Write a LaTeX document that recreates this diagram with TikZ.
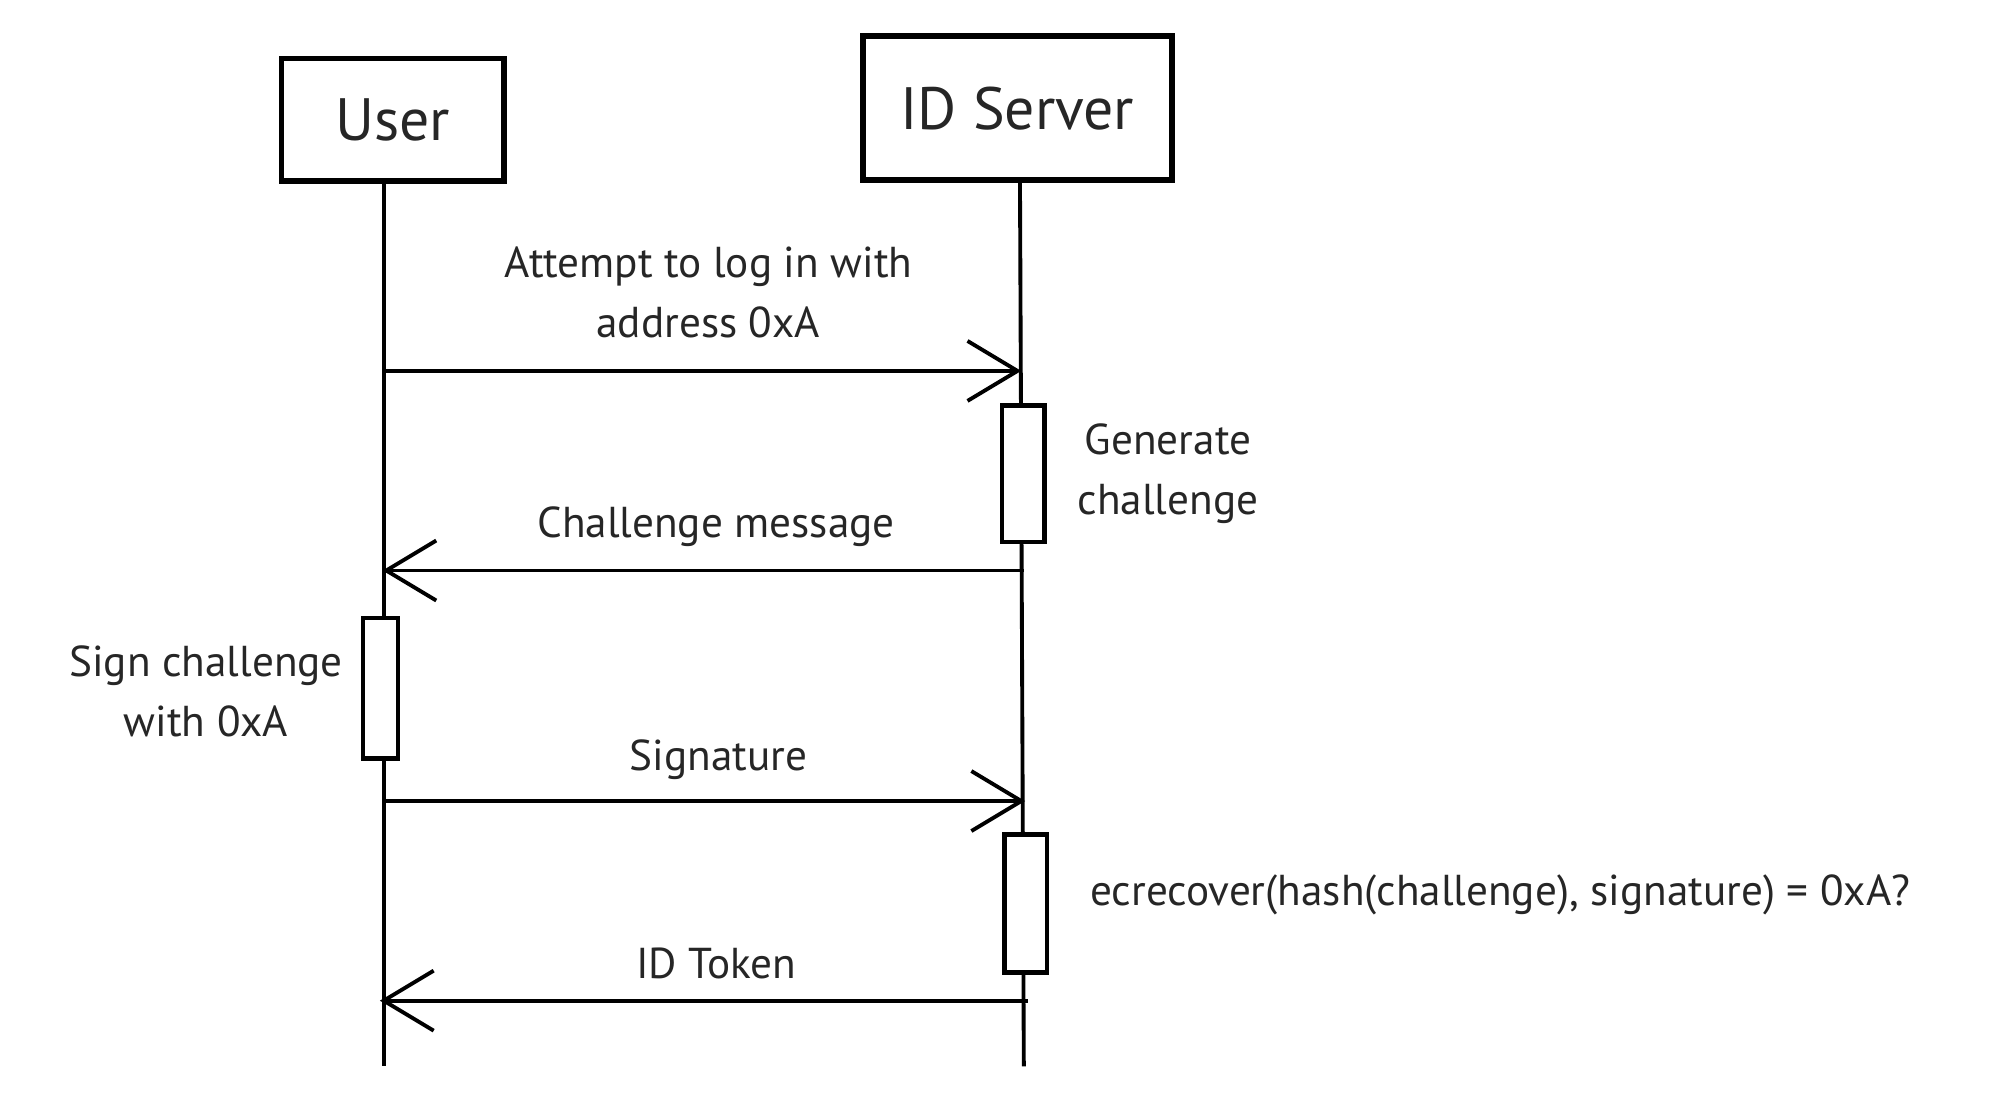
\documentclass[tikz,border=0pt]{standalone}
\usepackage{fontspec}
\setmainfont{PT Sans}
\usetikzlibrary{arrows.meta}
\begin{document}
\begin{tikzpicture}[x=0.01288cm,y=-0.01288cm,line width=1.1pt,
  actor/.style={draw,line width=1.6pt,minimum width=#1,inner sep=0pt},
  act/.style={draw,fill=white,line width=1.3pt},
  msg/.style={-{Straight Barb[length=5mm,width=6mm,line width=1.1pt]}},
  lbl/.style={font=\fontsize{12.3}{17}\selectfont,align=center},
  every node/.style={text=black!85}]
\useasboundingbox (0,0) rectangle (1553,854);
\node[actor=173*0.01288cm,minimum height=95*0.01288cm,font=\fontsize{17}{21}\selectfont] (user) at (305,93) {User};
\node[actor=240*0.01288cm,minimum height=112*0.01288cm,font=\fontsize{17}{21}\selectfont] (srv) at (790,84) {ID Server};
\coordinate (ue) at (298,828);
\coordinate (se) at (795,828);
\draw (298,141) -- (ue);
\draw (792,140) -- (se);
\coordinate (a1s) at (300,288); \coordinate (a1e) at (793,288);
\draw[msg] (a1s) -- (a1e);
\node[lbl] (l1) at (550,227) {Attempt to log in with\\address 0xA};
\draw[act] (778,315) rectangle (811,421);
\node[lbl] (l2) at (907,368) {Generate\\challenge};
\coordinate (a2s) at (795,443); \coordinate (a2e) at (297,443);
\draw[msg] (a2s) -- (a2e);
\node[lbl] (l3) at (556,409) {Challenge message};
\draw[act] (282,480) rectangle (309,589);
\node[lbl] (l4) at (160,537) {Sign challenge\\with 0xA};
\coordinate (a3s) at (297,622); \coordinate (a3e) at (796,622);
\draw[msg] (a3s) -- (a3e);
\node[lbl] (l5) at (558,590) {Signature};
\draw[act] (780,648) rectangle (813,755);
\node[lbl,anchor=west] (l6) at (836,695) {ecrecover(hash(challenge), signature) = 0xA?};
\coordinate (a4s) at (798,777); \coordinate (a4e) at (295,777);
\draw[msg] (a4s) -- (a4e);
\node[lbl] (l7) at (556,748) {ID Token};
\end{tikzpicture}
\end{document}
